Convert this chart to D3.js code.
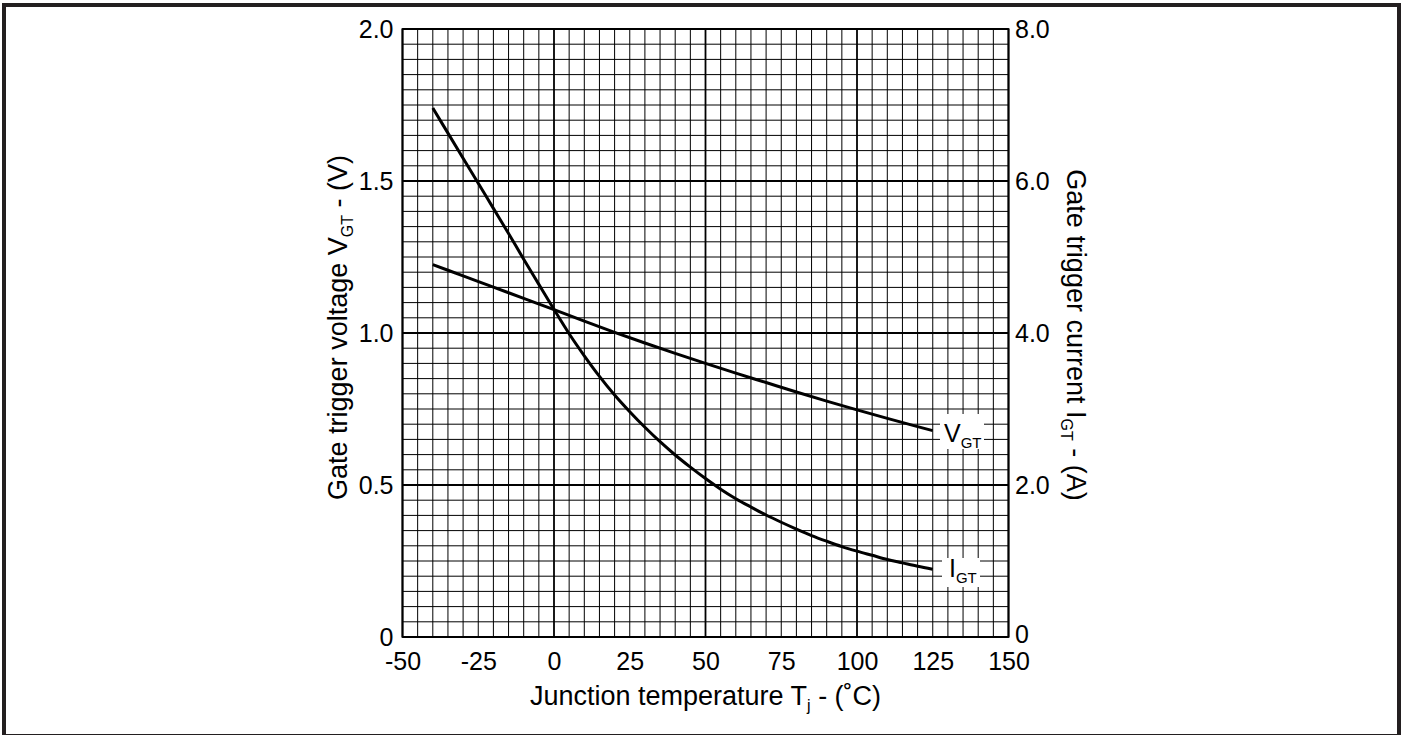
<!DOCTYPE html>
<html>
<head>
<meta charset="utf-8">
<script src="https://cdn.jsdelivr.net/npm/d3@7"></script>
<style>
  html, body { margin: 0; padding: 0; background: #fff; }
  svg { display: block; }
  text { font-family: "Liberation Sans", Arial, Helvetica, sans-serif; fill: #000; }
</style>
</head>
<body>
<svg id="chart" width="1407" height="735"></svg>
<script>
// ---- data ----
const xTicks = [-50, -25, 0, 25, 50, 75, 100, 125, 150];
const leftTicks = [0, 0.5, 1.0, 1.5, 2.0];
const leftTickLabels = ["0", "0.5", "1.0", "1.5", "2.0"];
const rightTicks = [0, 2, 4, 6, 8];
const rightTickLabels = ["0", "2.0", "4.0", "6.0", "8.0"];

const vgtTemps = [-40, -30, -20, -10, 0, 10, 20, 30, 40, 50, 60, 70, 80, 90, 100, 110, 120, 125];
const vgtValues = [1.225, 1.188, 1.151, 1.114, 1.077, 1.039, 1.002, 0.967, 0.933, 0.900, 0.868, 0.837, 0.806, 0.776, 0.747, 0.719, 0.692, 0.679];

const igtTemps = [-40, -35, -30, -25, -20, -15, -10, -5, 0, 5, 10, 15, 20, 25, 30, 35, 40, 45, 50, 55, 60, 65, 70, 75, 80, 85, 90, 95, 100, 105, 110, 115, 120, 125];
const igtValues = [6.96, 6.63, 6.30, 5.97, 5.64, 5.31, 4.97, 4.64, 4.31, 3.99, 3.70, 3.43, 3.185, 2.965, 2.76, 2.57, 2.395, 2.235, 2.085, 1.945, 1.82, 1.71, 1.605, 1.51, 1.42, 1.335, 1.26, 1.19, 1.13, 1.075, 1.02, 0.975, 0.93, 0.89];

// ---- layout ----
const svg = d3.select("#chart");
const L = 402.5, R = 1008.5, T = 29, B = 637;
const FS = 25, TFS = 27;

const x = d3.scaleLinear().domain([-50, 150]).range([L, R]);
const yL = d3.scaleLinear().domain([0, 2]).range([B, T]);
const yR = d3.scaleLinear().domain([0, 8]).range([B, T]);

// outer frame
svg.append("rect")
  .attr("x", 4).attr("y", 5).attr("width", 1395).attr("height", 731)
  .attr("fill", "none").attr("stroke", "#231f20").attr("stroke-width", 4);

// grid
const g = svg.append("g");
const xMinor = d3.range(-50, 150.001, 5);
const yMinor = d3.range(0, 2.0001, 0.05);
g.selectAll("line.vx").data(xMinor).enter().append("line")
  .attr("x1", d => x(d)).attr("x2", d => x(d)).attr("y1", T).attr("y2", B)
  .attr("stroke", "#000")
  .attr("stroke-width", d => (Math.abs(d % 50) < 1e-6) ? 1.8 : 1);
g.selectAll("line.hy").data(yMinor).enter().append("line")
  .attr("y1", d => yL(d)).attr("y2", d => yL(d)).attr("x1", L).attr("x2", R)
  .attr("stroke", "#000")
  .attr("stroke-width", d => (Math.abs((d * 2) - Math.round(d * 2)) < 1e-6) ? 1.8 : 1);
g.append("rect").attr("x", L).attr("y", T).attr("width", R - L).attr("height", B - T)
  .attr("fill", "none").attr("stroke", "#000").attr("stroke-width", 1.8);

// curves
const vgtLine = d3.line().x(d => x(d[0])).y(d => yL(d[1])).curve(d3.curveMonotoneX);
const igtLine = d3.line().x(d => x(d[0])).y(d => yR(d[1])).curve(d3.curveMonotoneX);
svg.append("path").datum(vgtTemps.map((t, i) => [t, vgtValues[i]]))
  .attr("d", vgtLine).attr("fill", "none").attr("stroke", "#000").attr("stroke-width", 3);
svg.append("path").datum(igtTemps.map((t, i) => [t, igtValues[i]]))
  .attr("d", igtLine).attr("fill", "none").attr("stroke", "#000").attr("stroke-width", 3);

// curve labels with white boxes
function curveLabel(main, sub, bx, by, bw, bh, tx, ty) {
  svg.append("rect").attr("x", bx).attr("y", by).attr("width", bw).attr("height", bh).attr("fill", "#fff");
  const t = svg.append("text").attr("x", tx).attr("y", ty).style("font-size", FS + "px");
  t.append("tspan").text(main);
  t.append("tspan").attr("dy", 6).style("font-size", "15px").text(sub);
}
curveLabel("V", "GT", 940, 414, 44, 35, 944, 441.5);
curveLabel("I", "GT", 942, 558, 38, 29, 949, 576.5);

// axes
const axB = d3.axisBottom(x).tickValues(xTicks).tickSize(0).tickPadding(15).tickFormat(d => String(d));
const gB = svg.append("g").attr("transform", `translate(0,${B})`).call(axB);
const axLft = d3.axisLeft(yL).tickValues(leftTicks).tickSize(0).tickPadding(9)
  .tickFormat((d, i) => leftTickLabels[i]);
const gL = svg.append("g").attr("transform", `translate(${L},0)`).call(axLft);
const axRt = d3.axisRight(yR).tickValues(rightTicks).tickSize(0).tickPadding(6.5)
  .tickFormat((d, i) => rightTickLabels[i]);
const gR = svg.append("g").attr("transform", `translate(${R},0)`).call(axRt);
[gB, gL, gR].forEach(a => {
  a.select(".domain").remove();
  a.attr("font-family", null).attr("font-size", null);
  a.selectAll("text").style("font-size", FS + "px").attr("fill", "#000");
});
// keep the right-hand "0" clear of the "150" below it
gR.selectAll(".tick text").filter(d => d === 0).attr("dy", "0.2em");

// axis titles
const xt = svg.append("text").attr("x", (L + R) / 2).attr("y", 705)
  .attr("text-anchor", "middle").style("font-size", TFS + "px");
xt.append("tspan").text("Junction temperature T");
xt.append("tspan").attr("dy", 6).style("font-size", "16px").text("j");
xt.append("tspan").attr("dy", -6).text(" - (˚C)");

const yt = svg.append("text")
  .attr("transform", `translate(347,327.5) rotate(-90)`)
  .attr("text-anchor", "middle").style("font-size", TFS + "px");
yt.append("tspan").text("Gate trigger voltage V");
yt.append("tspan").attr("dy", 6).style("font-size", "16px").text("GT");
yt.append("tspan").attr("dy", -6).text(" - (V)");

const rt = svg.append("text")
  .attr("transform", `translate(1067,335) rotate(90)`)
  .attr("text-anchor", "middle").style("font-size", TFS + "px");
rt.append("tspan").text("Gate trigger current I");
rt.append("tspan").attr("dy", 6).style("font-size", "16px").text("GT");
rt.append("tspan").attr("dy", -6).text(" - (A)");
</script>
</body>
</html>
